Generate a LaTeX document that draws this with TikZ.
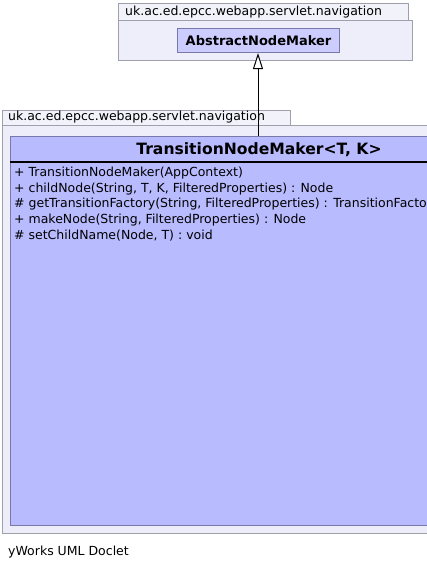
\documentclass[tikz,border=0pt]{standalone}
\usepackage{fontspec}
\setmainfont{DejaVu Sans}
\usetikzlibrary{arrows.meta}
\definecolor{pkgfill}{RGB}{238,238,250}
\definecolor{tabfill}{RGB}{242,242,250}
\definecolor{pkgline}{RGB}{160,160,172}
\definecolor{clsfill}{RGB}{185,187,255}
\definecolor{clsline}{RGB}{120,120,170}
\definecolor{absfill}{RGB}{204,204,255}
\tikzset{
  pkgbox/.style={draw=pkgline, fill=pkgfill, line width=1pt, inner sep=0pt, anchor=north west},
  pkgtab/.style={draw=pkgline, fill=tabfill, line width=1pt, inner sep=0pt, anchor=north west},
  clsbox/.style={draw=clsline, fill=clsfill, line width=1pt, inner sep=0pt, anchor=north west},
  absbox/.style={draw=clsline, fill=absfill, line width=1pt, inner sep=0pt, anchor=north west},
  txt/.style={inner sep=0pt, font=\fontsize{12.5}{15.8}\selectfont},
  bold/.style={inner sep=0pt, font=\fontsize{13}{15}\selectfont\bfseries},
  title/.style={inner sep=0pt, font=\fontsize{15.6}{18}\selectfont\bfseries},
  inherit/.style={-{Triangle[open, length=16pt, width=10pt, fill=white]}, line width=1pt},
}
\begin{document}
\begin{tikzpicture}[x=1pt, y=-1pt]
\useasboundingbox (0,0) rectangle (427,571);
% top package
\node[pkgtab, minimum width=290pt, minimum height=17pt] (tab1) at (118,3) {};
\node[pkgbox, minimum width=294pt, minimum height=40pt] (pkg1) at (118,20) {};
\node[txt, anchor=west] (tab1t) at (125,12) {uk.ac.ed.epcc.webapp.servlet.navigation};
\node[absbox, minimum width=162pt, minimum height=24pt] (abs) at (177,28) {};
\node[bold] (abst) at (abs.center) {AbstractNodeMaker};
% bottom package
\node[pkgtab, minimum width=288pt, minimum height=15pt] (tab2) at (2,110) {};
\node[pkgbox, minimum width=440pt, minimum height=408pt] (pkg2) at (2,125) {};
\node[txt, anchor=west] (tab2t) at (8,117.5) {uk.ac.ed.epcc.webapp.servlet.navigation};
\node[clsbox, minimum width=440pt, minimum height=389pt] (cls) at (10,136) {};
\node[title] (clst) at (259,149.5) {TransitionNodeMaker<T, K>};
\coordinate (sepL) at (10,162);
\coordinate (sepR) at (450,162);
\draw[line width=2pt] (sepL) -- (sepR);
\node[txt, anchor=north west, align=left] (ops) at (14,166.5) {+ TransitionNodeMaker(AppContext)\\
+ childNode(String, T, K, FilteredProperties) : Node\\
\# getTransitionFactory(String, FilteredProperties) : TransitionFactory\\
+ makeNode(String, FilteredProperties) : Node\\
\# setChildName(Node, T) : void};
% inheritance
\coordinate (clsTop) at (258,136);
\draw[inherit] (clsTop) -- (abs.south -| clsTop);
% footer
\node[txt, anchor=west] (foot) at (8,552) {yWorks UML Doclet};
\end{tikzpicture}
\end{document}
